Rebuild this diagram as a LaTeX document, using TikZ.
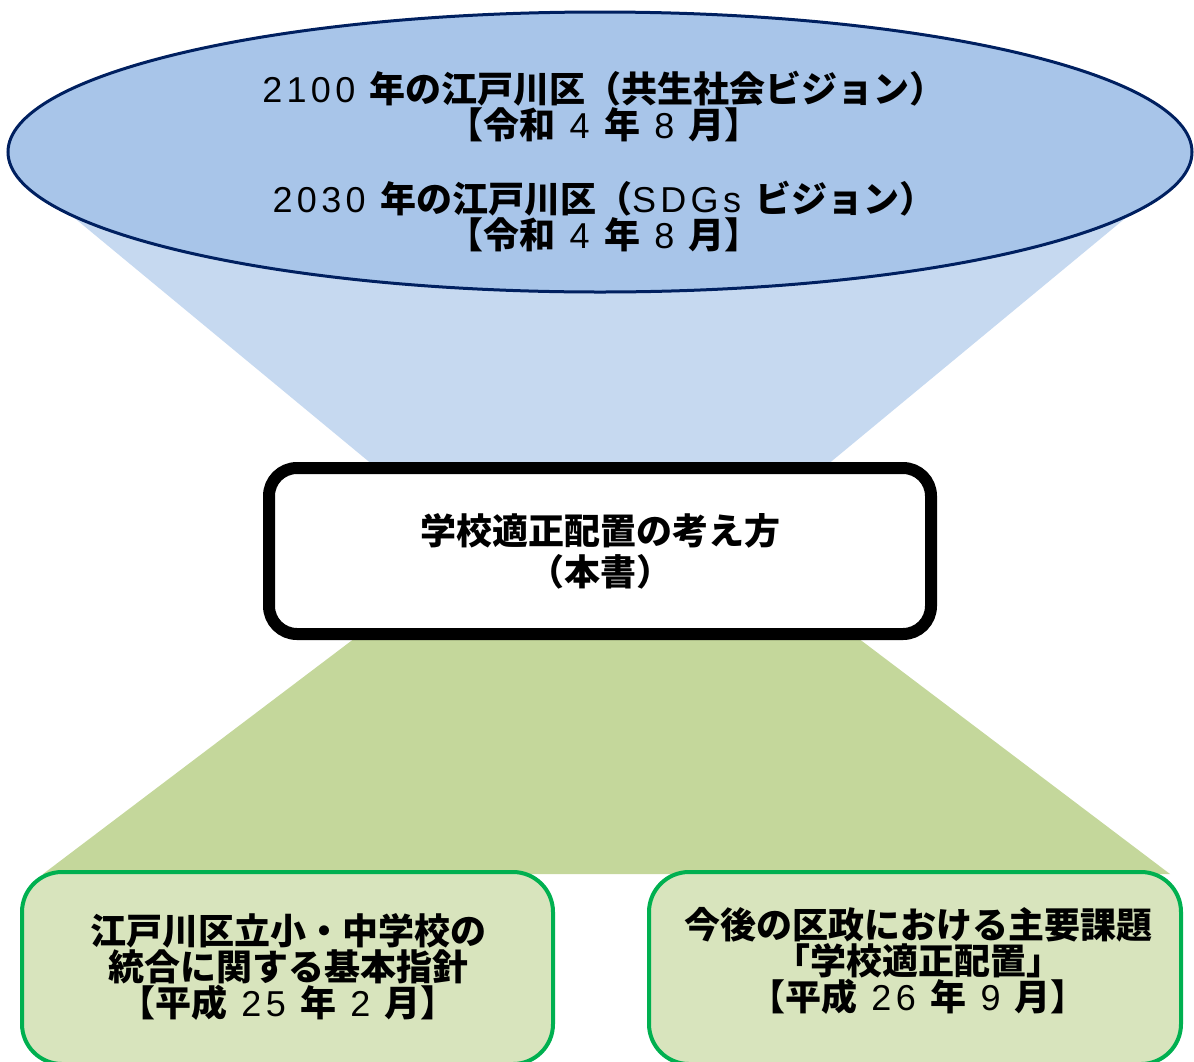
\documentclass[tikz,border=0pt]{standalone}
\usepackage{fontspec}
\setmainfont{Noto Sans CJK JP}
\newfontfamily\dgfont{Liberation Sans}[LetterSpace=12]
\usetikzlibrary{shapes.geometric}
\definecolor{ellfill}{RGB}{168,197,233}
\definecolor{ellline}{RGB}{0,32,96}
\definecolor{funnelblue}{RGB}{198,217,240}
\definecolor{funnelgreen}{RGB}{196,215,155}
\definecolor{boxfill}{RGB}{216,228,189}
\definecolor{boxline}{RGB}{0,176,80}
\newcommand\dg[1]{{\mdseries\dgfont #1}}
\tikzset{
  vision/.style={ellipse, draw=ellline, fill=ellfill, line width=3pt,
    minimum width=1184pt, minimum height=280pt, inner sep=0pt},
  visiontext/.style={align=center, inner sep=0pt, font=\fontsize{36}{36}\selectfont\bfseries},
  planbox/.style={draw=black, fill=white, line width=12pt, rounded corners=28pt,
    minimum width=662pt, minimum height=166pt, inner sep=0pt, align=center,
    font=\fontsize{36}{41}\selectfont\bfseries},
  basebox/.style={draw=boxline, fill=boxfill, line width=4pt, rounded corners=40pt,
    minimum width=531pt, minimum height=192pt, inner sep=0pt},
  basetext/.style={align=center, inner sep=0pt, font=\fontsize{36}{36}\selectfont\bfseries}
}
\begin{document}
\begin{tikzpicture}[x=1pt,y=-1pt]
\useasboundingbox (0,0) rectangle (1194,1061);
\clip (0,0) rectangle (1194,1061);
% funnels
\fill[funnelblue] (8,163) -- (1192,163) -- (821,470) -- (379,470) -- cycle;
\fill[funnelgreen] (363,632) -- (850,632) -- (1170,874) -- (43,874) -- cycle;
% ellipse
\node[vision] (ell) at (600,152) {};
\node[visiontext] (v1) at (604,106) {\dg{2100 }年の江戸川区（共生社会ビジョン）\\【令和\dg{ 4 }年\dg{ 8 }月】};
\node[visiontext] (v2) at (604,216) {\dg{2030 }年の江戸川区（\dg{SDGs }ビジョン）\\【令和\dg{ 4 }年\dg{ 8 }月】};
% center box
\node[planbox] (plan) at (600,551) {学校適正配置の考え方\\（本書）};
% bottom boxes
\node[basebox] (left) at (287.5,968) {};
\node[basetext] (lt) at (288,967) {江戸川区立小・中学校の\\統合に関する基本指針\\【平成\dg{ 25 }年\dg{ 2 }月】};
\node[basebox, minimum width=532pt] (right) at (915,968) {};
\node[basetext] (rt) at (918,961) {今後の区政における主要課題\\「学校適正配置」\\【平成\dg{ 26 }年\dg{ 9 }月】};
\end{tikzpicture}
\end{document}
